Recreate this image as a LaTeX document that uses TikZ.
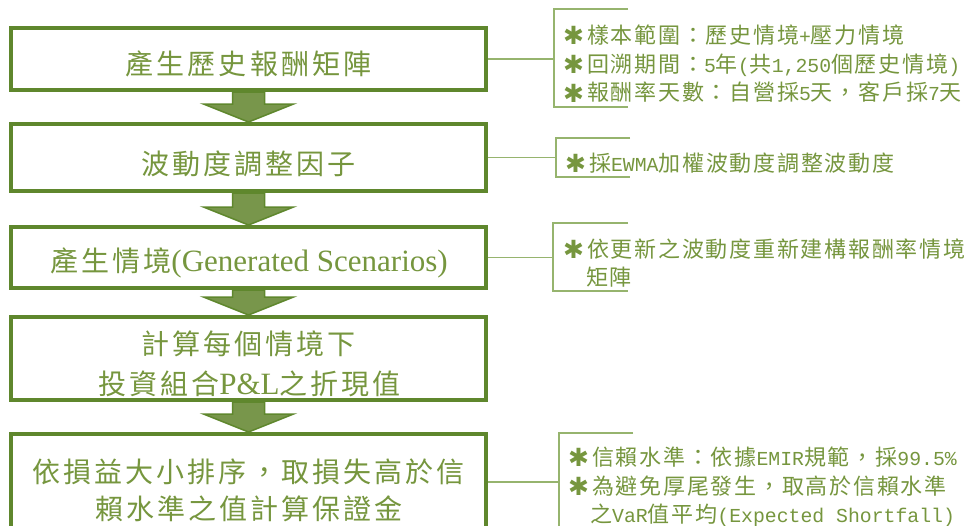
\documentclass[tikz,border=0pt]{standalone}
\usepackage{fontspec}
\setmainfont{Liberation Serif}
\newfontfamily\cjkbox{Noto Sans CJK TC}[LetterSpace=11]
\newfontfamily\cjkside{Noto Sans CJK TC}[LetterSpace=8]
\newfontfamily\sidemono{Liberation Mono}
\newfontfamily\symf{DejaVu Sans}
\usetikzlibrary{calc}
\definecolor{boxgreen}{RGB}{95,135,45}
\definecolor{arrowfill}{RGB}{120,150,75}
\definecolor{txtgreen}{RGB}{118,150,62}
\definecolor{brkgreen}{RGB}{150,180,110}
\newcommand\bt{\cjkbox\fontsize{28pt}{34pt}\selectfont}
\newcommand\bl[1]{{\rmfamily\fontsize{31pt}{34pt}\selectfont #1}}
\newcommand\st{\cjkside\fontsize{22pt}{28pt}\selectfont}
\newcommand\sm[1]{{\sidemono\fontsize{19.8pt}{24pt}\selectfont #1}}
\newcommand\sidestar{\makebox[23.8pt][l]{\symf\fontsize{25pt}{26pt}\selectfont\raisebox{-1.5pt}{✱}}}
\newcommand\blockarr[2]{\draw[barrow] ($(#1.south)+(-16,0)$) -- ($(#2.north)+(-16,-18)$) -- ($(#2.north)+(-45,-18)$) -- (#2.north) -- ($(#2.north)+(45,-18)$) -- ($(#2.north)+(16,-18)$) -- ($(#1.south)+(16,0)$) -- cycle;}
\begin{document}
\begin{tikzpicture}[x=1pt,y=-1pt,
  box/.style={draw=boxgreen,line width=4pt,inner sep=0pt,minimum width=475pt},
  btxt/.style={anchor=base,inner sep=0pt,text=txtgreen,font=\bt},
  stxt/.style={anchor=base west,inner sep=0pt,text=txtgreen,font=\st},
  brk/.style={draw=brkgreen,line width=1.2pt},
  barrow/.style={draw=boxgreen,line width=1.5pt,fill=arrowfill,line join=miter}]
\fill[white] (0,0) rectangle (971,525);
\clip (0,0) rectangle (971,525);

% boxes
\node[box,minimum height=62pt] (b1) at (248.5,59) {};
\node[box,minimum height=67pt] (b2) at (248.5,157.5) {};
\node[box,minimum height=61pt] (b3) at (248.5,257.5) {};
\node[box,minimum height=83pt] (b4) at (248.5,358.5) {};
\node[box,minimum height=111pt] (b5) at (248.5,489.5) {};

% block arrows
\blockarr{b1}{b2}
\blockarr{b2}{b3}
\blockarr{b3}{b4}
\blockarr{b4}{b5}

% box texts
\node[btxt] (t1) at (248.5,74.5) {產生歷史報酬矩陣};
\node[btxt] (t2) at (248.5,174) {波動度調整因子};
\node[btxt] (t3) at (249,271) {產生情境\bl{(Generated Scenarios)}};
\node[btxt] (t4a) at (248.5,354) {計算每個情境下};
\node[btxt] (t4b) at (249.5,394.5) {投資組合\bl{P\&L}之折現值};
\node[btxt] (t5a) at (248.5,482) {依損益大小排序，取損失高於信};
\node[btxt] (t5b) at (249,519.5) {賴水準之值計算保證金};

% brackets
\coordinate (k1t) at (628,9);   \coordinate (k1b) at (628,107); \coordinate (k1m) at (554,59);
\coordinate (k2t) at (630,138); \coordinate (k2b) at (630,177); \coordinate (k2m) at (556,157.5);
\coordinate (k3t) at (628,223); \coordinate (k3b) at (628,291); \coordinate (k3m) at (553,257.5);
\coordinate (k5t) at (633,433); \coordinate (k5b) at (633,531); \coordinate (k5m) at (559,482);
\draw[brk] (k1t) -| (k1m) |- (k1b);
\draw[brk] (k2t) -| (k2m) |- (k2b);
\draw[brk] (k3t) -| (k3m) |- (k3b);
\draw[brk] (k5t) -| (k5m) |- (k5b);
\draw[brk] (b1.east) -- (k1m);
\draw[brk] (b2.east) -- (k2m);
\draw[brk] (b3.east) -- (k3m);
\draw[brk] (k5m -| b5.east) -- (k5m);

% side texts
\node[stxt] (s1a) at (563,43) {\sidestar 樣本範圍：歷史情境\sm{+}壓力情境};
\node[stxt] (s1b) at (563,72) {\sidestar 回溯期間：\sm{5}年\sm{(}共\sm{1,250}個歷史情境\sm{)}};
\node[stxt] (s1c) at (563,100.5) {\sidestar 報酬率天數：自營採\sm{5}天，客戶採\sm{7}天};
\node[stxt] (s2) at (565,171) {\sidestar 採\sm{EWMA}加權波動度調整波動度};
\node[stxt] (s3a) at (563,257) {\sidestar 依更新之波動度重新建構報酬率情境};
\node[stxt] (s3b) at (586,285) {矩陣};
\node[stxt] (s5a) at (568,465) {\sidestar 信賴水準：依據\sm{EMIR}規範，採\sm{99.5\%}};
\node[stxt] (s5b) at (568,494) {\sidestar 為避免厚尾發生，取高於信賴水準};
\node[stxt] (s5c) at (590,522) {之\sm{VaR}值平均\sm{(Expected Shortfall)}};
\end{tikzpicture}
\end{document}
